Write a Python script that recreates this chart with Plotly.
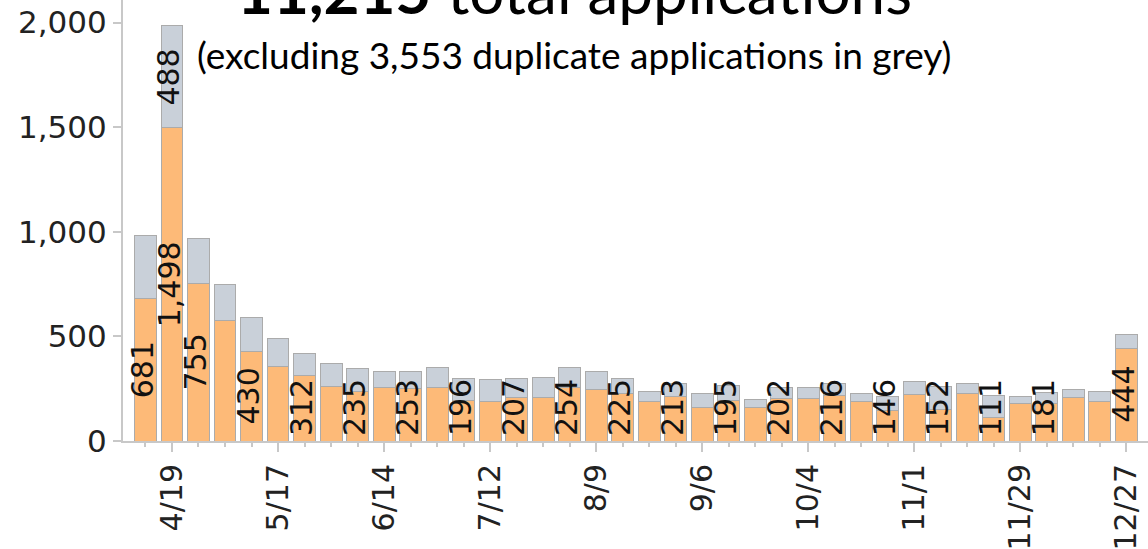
import plotly.graph_objects as go

# weekly buckets (week starting)
weeks = [
    "2020-04-12", "2020-04-19", "2020-04-26", "2020-05-03", "2020-05-10", "2020-05-17",
    "2020-05-24", "2020-05-31", "2020-06-07", "2020-06-14", "2020-06-21", "2020-06-28",
    "2020-07-05", "2020-07-12", "2020-07-19", "2020-07-26", "2020-08-02", "2020-08-09",
    "2020-08-16", "2020-08-23", "2020-08-30", "2020-09-06", "2020-09-13", "2020-09-20",
    "2020-09-27", "2020-10-04", "2020-10-11", "2020-10-18", "2020-10-25", "2020-11-01",
    "2020-11-08", "2020-11-15", "2020-11-22", "2020-11-29", "2020-12-06", "2020-12-13",
    "2020-12-20", "2020-12-27",
]

unique_apps = [
    681, 1498, 755, 576, 430, 356, 312, 260, 235, 258, 253, 258,
    196, 191, 207, 210, 254, 248, 225, 191, 213, 162, 195, 162,
    202, 202, 216, 191, 146, 221, 152, 229, 111, 181, 181, 210,
    191, 444,
]

duplicate_apps = [
    300, 488, 212, 170, 162, 132, 107, 112, 110, 74, 80, 93,
    101, 104, 90, 93, 99, 83, 72, 45, 63, 64, 70, 36,
    52, 53, 57, 36, 66, 63, 110, 45, 108, 30, 52, 36,
    45, 63,
]

# which weeks get a value label
unique_labeled = [0, 1, 2, 4, 6, 8, 10, 12, 14, 16, 18, 20, 22, 24, 26, 28, 30, 32, 34, 37]
duplicate_labeled = [1]

y_ticks = [0, 500, 1000, 1500, 2000]

ORANGE = "#FDBA78"
GREY = "#C9D0D9"
OUTLINE = "#ABABAB"
AXIS = "#C8C8C8"
DAY_MS = 86400000
BAR_WIDTH = 5.8 * DAY_MS
LABEL_FLOOR = 160
FONT = "DejaVu Sans, Verdana"

fig = go.Figure()

fig.add_trace(go.Bar(
    x=weeks, y=unique_apps, name="unique",
    width=BAR_WIDTH,
    marker=dict(color=ORANGE, line=dict(color=OUTLINE, width=1)),
    hoverinfo="skip",
))
fig.add_trace(go.Bar(
    x=weeks, y=duplicate_apps, name="duplicate",
    width=BAR_WIDTH,
    marker=dict(color=GREY, line=dict(color=OUTLINE, width=1)),
    hoverinfo="skip",
))

label_font = dict(family=FONT, size=30, color="#111")
for i in unique_labeled:
    fig.add_annotation(
        x=weeks[i], y=max(unique_apps[i] / 2, LABEL_FLOOR),
        text=f"{unique_apps[i]:,}", textangle=-90, showarrow=False,
        xshift=-3, font=label_font,
    )
for i in duplicate_labeled:
    fig.add_annotation(
        x=weeks[i], y=unique_apps[i] + duplicate_apps[i] / 2,
        text=f"{duplicate_apps[i]:,}", textangle=-90, showarrow=False,
        xshift=-3, font=label_font,
    )

# title (partly cut off at the top, as in the original)
fig.add_annotation(
    xref="paper", yref="paper", x=0.44, y=1, yanchor="bottom", yshift=-29,
    text="<b>11,215</b> total applications", showarrow=False,
    font=dict(family="Lato", size=62, color="#000"),
)
fig.add_annotation(
    xref="paper", yref="paper", x=0.44, y=1, yanchor="top", yshift=-30,
    text="(excluding 3,553 duplicate applications in grey)", showarrow=False,
    font=dict(family="Lato", size=37, color="#000"),
)

fig.update_layout(
    width=1148, height=549,
    margin=dict(l=123, r=0, t=0, b=108),
    barmode="stack",
    showlegend=False,
    plot_bgcolor="white",
    paper_bgcolor="white",
    xaxis=dict(
        type="date", automargin=False,
        range=["2020-04-06 01:30", "2021-01-01 18:15"],
        tick0="2020-04-19", dtick=28 * DAY_MS, tickformat="%-m/%-d",
        tickangle=-90, ticks="outside", ticklen=9, tickwidth=1.5, tickcolor=AXIS,
        ticklabelstandoff=0,
        minor=dict(tick0="2020-04-12", dtick=7 * DAY_MS, ticks="outside",
                   ticklen=4, tickcolor=AXIS, showgrid=False),
        showline=True, linecolor=AXIS, linewidth=2,
        showgrid=False, zeroline=False,
        tickfont=dict(family=FONT, size=30, color="#222"),
    ),
    yaxis=dict(
        automargin=False,
        range=[0, 2108],
        tickvals=y_ticks, tickformat=",",
        ticks="outside", ticklen=8, tickwidth=1.5, tickcolor=AXIS,
        ticklabelstandoff=0,
        showline=True, linecolor=AXIS, linewidth=2,
        showgrid=False, zeroline=False,
        tickfont=dict(family=FONT, size=31, color="#222"),
    ),
)

# drop the default page margin so the figure sits at the window's corner
fig.write_html(
    "out.html",
    config={"displayModeBar": False},
    post_script="document.body.style.margin = '0';",
)
